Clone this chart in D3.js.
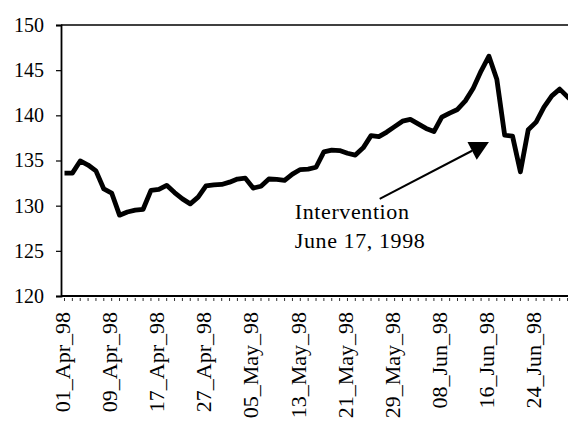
<!DOCTYPE html>
<html>
<head>
<meta charset="utf-8">
<title>Yen intervention</title>
<script src="https://d3js.org/d3.v7.min.js"></script>
<style>
    body { margin: 0; background: #fff; }
    svg text { font-family: "Liberation Serif", "DejaVu Serif", "Tinos", "Times New Roman", Times, serif !important; fill: #000; }
</style>
</head>
<body>
<div id="chart"></div>
<script>
    // trading days (weekdays), Apr 1 - Jul 1 1998
    const dates = [
        "01_Apr_98","02_Apr_98","03_Apr_98","06_Apr_98","07_Apr_98","08_Apr_98","09_Apr_98","10_Apr_98",
        "13_Apr_98","14_Apr_98","15_Apr_98","16_Apr_98","17_Apr_98","20_Apr_98","21_Apr_98","22_Apr_98",
        "23_Apr_98","24_Apr_98","27_Apr_98","28_Apr_98","29_Apr_98","30_Apr_98",
        "01_May_98","04_May_98","05_May_98","06_May_98","07_May_98","08_May_98","11_May_98","12_May_98",
        "13_May_98","14_May_98","15_May_98","18_May_98","19_May_98","20_May_98","21_May_98","22_May_98",
        "25_May_98","26_May_98","27_May_98","28_May_98","29_May_98",
        "01_Jun_98","02_Jun_98","03_Jun_98","04_Jun_98","05_Jun_98","08_Jun_98","09_Jun_98","10_Jun_98",
        "11_Jun_98","12_Jun_98","15_Jun_98","16_Jun_98","17_Jun_98","18_Jun_98","19_Jun_98","22_Jun_98",
        "23_Jun_98","24_Jun_98","25_Jun_98","26_Jun_98","29_Jun_98","30_Jun_98","01_Jul_98"
    ];

    // yen per dollar
    const rates = [
        133.6, 133.6, 134.95, 134.5, 133.85, 131.85, 131.4, 128.95, 129.3, 129.5,
        129.6, 131.7, 131.8, 132.25, 131.45, 130.75, 130.2, 130.95, 132.2, 132.3,
        132.35, 132.6, 132.95, 133.05, 131.95, 132.15, 132.95, 132.9, 132.8, 133.5,
        134.0, 134.05, 134.25, 135.95, 136.15, 136.1, 135.8, 135.6, 136.4, 137.75,
        137.65, 138.15, 138.75, 139.35, 139.55, 139.05, 138.55, 138.2, 139.8, 140.25,
        140.65, 141.6, 143.0, 144.9, 146.55, 144.0, 137.8, 137.7, 133.75, 138.4,
        139.25, 140.9, 142.15, 142.9, 142.05, 141.3
    ];

    const tickLabels = ["01_Apr_98","09_Apr_98","17_Apr_98","27_Apr_98","05_May_98","13_May_98",
                        "21_May_98","29_May_98","08_Jun_98","16_Jun_98","24_Jun_98"];
    const yTicks = [120, 125, 130, 135, 140, 145, 150];

    // annotation: [category index, rate]
    const noteLines = ["Intervention", "June 17, 1998"];
    const noteAt = [29.3, 128.5];
    const arrowFrom = [40.1, 130.75];
    const arrowTo = [54.0, 137.05];

    const W = 568, H = 423;
    const svg = d3.select("#chart").append("svg")
        .attr("width", W).attr("height", H);

    const x = d3.scalePoint()
        .domain(dates)
        .range([64.5, 64.5 + 7.86 * (dates.length - 1)]);
    const xAt = i => x.range()[0] + i * x.step();

    const y = d3.scaleLinear()
        .domain([120, 150])
        .range([296, 25]);

    const left = 61;

    // top border of the plot area
    svg.append("line")
        .attr("x1", left).attr("x2", W)
        .attr("y1", y(150)).attr("y2", y(150))
        .attr("stroke", "#000").attr("stroke-width", 1.6);

    // y axis
    const yAxis = d3.axisLeft(y).tickValues(yTicks).tickSize(5).tickPadding(12);
    const gy = svg.append("g")
        .attr("transform", "translate(" + left + ",0)")
        .call(yAxis);
    gy.attr("font-family", null);
    gy.select(".domain").attr("stroke-width", 1.8);
    gy.selectAll(".tick line").attr("stroke-width", 1.2);
    gy.selectAll(".tick text")
        .attr("font-size", 20)
        .attr("fill", "#000");

    // small ticks every day under the axis
    svg.append("g")
        .selectAll("line")
        .data(dates)
        .join("line")
        .attr("x1", d => x(d)).attr("x2", d => x(d))
        .attr("y1", y(120) + 2).attr("y2", y(120) + 5)
        .attr("stroke", "#333").attr("stroke-width", 1);

    // x axis labels every 6th day
    const xAxis = d3.axisBottom(x)
        .tickValues(tickLabels)
        .tickSize(0)
        .tickSizeOuter(0);
    const gx = svg.append("g")
        .attr("transform", "translate(0," + y(120) + ")")
        .call(xAxis);
    gx.attr("font-family", null);
    gx.select(".domain")
        .attr("d", "M" + left + ",0H" + W)
        .attr("stroke-width", 1.8);
    gx.selectAll(".tick text")
        .attr("font-size", 22)
        .attr("fill", "#000")
        .attr("text-anchor", "end")
        .attr("transform", "rotate(-90)")
        .attr("x", -16)
        .attr("y", -3)
        .attr("dy", "0.35em");

    // the series
    const line = d3.line()
        .x((d, i) => x(dates[i]))
        .y(d => y(d));
    svg.append("path")
        .datum(rates)
        .attr("fill", "none")
        .attr("stroke", "#000")
        .attr("stroke-width", 4.8)
        .attr("stroke-linejoin", "round")
        .attr("d", line);

    // annotation text
    const note = svg.append("text")
        .attr("font-size", 22)
        .attr("letter-spacing", 0.6);
    note.selectAll("tspan")
        .data(noteLines)
        .join("tspan")
        .attr("x", xAt(noteAt[0]))
        .attr("y", (d, i) => y(noteAt[1]) + i * 29)
        .text(d => d);

    // arrow
    const x1 = xAt(arrowFrom[0]), y1 = y(arrowFrom[1]);
    const x2 = xAt(arrowTo[0]), y2 = y(arrowTo[1]);
    const ang = Math.atan2(y2 - y1, x2 - x1);
    const headLen = 19, headHalf = 10;
    const bx = x2 - headLen * Math.cos(ang), by = y2 - headLen * Math.sin(ang);
    svg.append("line")
        .attr("x1", x1).attr("y1", y1)
        .attr("x2", bx).attr("y2", by)
        .attr("stroke", "#000").attr("stroke-width", 2);
    svg.append("path")
        .attr("d", "M" + x2 + "," + y2 +
            "L" + (bx + headHalf * Math.sin(ang)) + "," + (by - headHalf * Math.cos(ang)) +
            "L" + (bx - headHalf * Math.sin(ang)) + "," + (by + headHalf * Math.cos(ang)) + "Z")
        .attr("fill", "#000");
</script>
</body>
</html>
